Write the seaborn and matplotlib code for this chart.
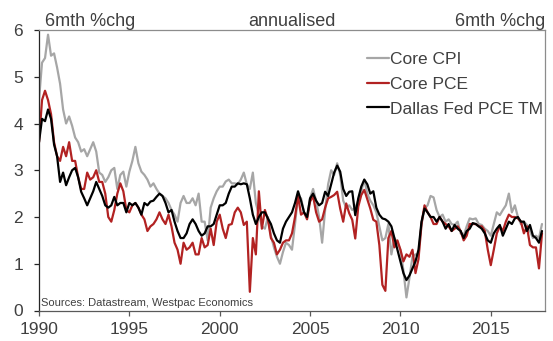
import numpy as np
import pandas as pd
import seaborn as sns
import matplotlib
matplotlib.use("Agg")
from matplotlib import pyplot as plt

# six-monthly % change, annualised; one value every 2 months (Jan, Mar, May, Jul, Sep, Nov) from Jan 1990
core_cpi = [
    4.5, 5.3, 5.4, 5.9, 5.45, 5.5,      # 1990
    5.2, 4.85, 4.3, 4.0, 4.15, 3.95,    # 1991
    3.7, 3.6, 3.4, 3.45, 3.3, 3.45,     # 1992
    3.6, 3.4, 2.95, 2.9, 2.75, 2.85,    # 1993
    3.0, 3.05, 2.6, 2.9, 2.97, 2.65,    # 1994
    2.97, 3.2, 3.5, 3.15, 2.97, 2.9,    # 1995
    2.8, 2.65, 2.72, 2.6, 2.5, 2.45,    # 1996
    2.4, 2.3, 2.15, 2.05, 1.9, 2.3,     # 1997
    2.45, 2.3, 2.3, 2.4, 2.25, 2.5,     # 1998
    1.9, 1.9, 1.5, 2.2, 2.4, 2.55,      # 1999
    2.65, 2.65, 2.76, 2.8, 2.72, 2.72,  # 2000
    2.7, 2.8, 2.95, 2.7, 2.6, 2.95,     # 2001
    2.3, 2.05, 1.8, 1.75, 2.0, 1.6,     # 2002
    1.35, 1.15, 1.0, 1.25, 1.45, 1.4,   # 2003
    1.3, 1.85, 2.45, 2.4, 2.1, 2.0,     # 2004
    2.4, 2.6, 2.35, 2.0, 1.45, 2.15,    # 2005
    2.7, 3.0, 2.9, 3.15, 2.9, 2.35,     # 2006
    2.2, 2.25, 2.15, 2.2, 2.35, 2.55,   # 2007
    2.8, 2.5, 2.35, 2.25, 2.1, 1.8,     # 2008
    1.5, 1.55, 1.85, 1.2, 1.55, 1.45,   # 2009
    1.3, 0.85, 0.28, 0.7, 1.15, 1.2,    # 2010
    1.2, 1.85, 2.18, 2.25, 2.45, 2.42,  # 2011
    2.15, 2.0, 2.05, 1.9, 1.95, 1.85,   # 2012
    1.83, 1.9, 1.65, 1.6, 1.8, 1.97,    # 2013
    1.95, 1.97, 1.85, 1.83, 1.75, 1.7,  # 2014
    1.6, 1.85, 2.1, 2.04, 2.15, 2.25,   # 2015
    2.5, 2.1, 2.25, 2.0, 1.85, 1.9,     # 2016
    1.83, 1.7, 1.55, 1.6, 1.55, 1.85,   # 2017
]

core_pce = [
    3.6, 4.5, 4.7, 4.5, 4.2, 3.6,
    3.3, 3.2, 3.5, 3.3, 3.6, 3.2,
    3.2, 2.85, 2.6, 2.6, 2.95, 2.8,
    2.85, 3.0, 2.75, 2.75, 2.5, 2.0,
    1.9, 2.15, 2.5, 2.72, 2.55, 2.15,
    2.1, 2.25, 2.3, 2.2, 2.05, 1.95,
    1.7, 1.8, 1.85, 1.95, 2.1, 1.95,
    1.85, 2.05, 1.8, 1.45, 1.3, 1.0,
    1.45, 1.3, 1.35, 1.45, 1.2, 1.2,
    1.55, 1.35, 1.4, 1.75, 1.4, 1.9,
    2.05, 1.75, 1.55, 1.83, 1.85, 2.1,
    2.2, 2.1, 1.83, 1.9, 0.4, 1.55,
    1.2, 2.55, 1.75, 2.15, 1.95, 1.55,
    1.45, 1.2, 1.3, 1.45, 1.5, 1.5,
    1.65, 2.0, 2.45, 2.05, 2.1, 1.95,
    2.33, 2.45, 2.1, 1.9, 1.95, 2.2,
    2.4, 2.43, 2.47, 2.54, 2.18, 1.9,
    2.29, 2.08, 1.94, 1.54, 2.22, 2.47,
    2.58, 2.38, 2.18, 1.94, 1.9, 1.4,
    0.55, 0.42, 1.55, 1.7, 1.35, 1.5,
    1.3, 1.05, 1.2, 1.15, 1.3, 0.8,
    1.1, 1.85, 2.25, 2.1, 2.0, 1.85,
    1.85, 2.0, 1.9, 1.85, 1.8, 1.7,
    1.75, 1.8, 1.7, 1.5, 1.6, 1.85,
    1.85, 1.85, 1.8, 1.8, 1.7, 1.3,
    0.97, 1.3, 1.65, 1.8, 1.7, 1.9,
    2.05, 2.0, 2.0, 1.97, 1.9, 1.65,
    1.8, 1.4, 1.35, 1.35, 0.9, 1.65,
]

dallas_tm = [
    3.6, 4.1, 4.05, 4.3, 4.1, 3.55,
    3.3, 2.75, 2.95, 2.68, 2.85, 3.0,
    3.05, 2.85, 2.54, 2.4, 2.25, 2.4,
    2.55, 2.75, 2.6, 2.45, 2.25, 2.2,
    2.25, 2.43, 2.25, 2.3, 2.3, 2.1,
    2.3, 2.25, 2.3, 2.2, 2.05, 2.3,
    2.25, 2.33, 2.35, 2.43, 2.5, 2.45,
    2.3, 2.1, 2.15, 1.9, 1.7, 1.55,
    1.55, 1.65, 1.85, 1.95, 1.85, 1.7,
    1.6, 1.65, 1.8, 1.8, 1.85, 2.05,
    2.25, 2.25, 2.3, 2.5, 2.65, 2.65,
    2.72, 2.7, 2.72, 2.7, 2.4, 2.05,
    1.85, 2.0, 2.1, 2.1, 1.97, 1.85,
    1.65, 1.5, 1.45, 1.75, 1.9, 2.0,
    2.1, 2.3, 2.55, 2.35, 2.1, 2.0,
    2.4, 2.5, 2.35, 2.25, 2.3, 2.54,
    2.45, 2.7, 2.95, 3.1, 2.97, 2.6,
    2.45, 2.54, 2.55, 2.04, 2.4, 2.65,
    2.8, 2.7, 2.5, 2.55, 2.2, 2.05,
    1.97, 1.95, 1.9, 1.8, 1.55, 1.3,
    1.05, 0.8, 0.65, 0.75, 0.9, 1.05,
    1.3, 1.9, 2.18, 2.1, 2.0, 2.0,
    1.9, 2.0, 1.9, 1.75, 1.85, 1.7,
    1.83, 1.75, 1.7, 1.55, 1.7, 1.75,
    1.87, 1.85, 1.8, 1.75, 1.65, 1.5,
    1.45, 1.65, 1.75, 1.83, 1.6, 1.75,
    1.9, 1.85, 1.97, 2.0, 1.9, 1.9,
    1.7, 1.83, 1.6, 1.55, 1.45, 1.7,
]

series_names = ['Core CPI', 'Core PCE', 'Dallas Fed PCE TM']
series_colors = ['#a6a6a6', '#b22222', '#000000']
x_ticks = [1990, 1995, 2000, 2005, 2010, 2015]
y_ticks = [0, 1, 2, 3, 4, 5, 6]

dates = pd.date_range('1990-01-01', periods=len(core_cpi), freq='2MS')
dec_year = dates.year + (dates.month - 1) / 12

df = pd.concat([
    pd.DataFrame({'year': dec_year, 'value': vals, 'series': name})
    for name, vals in zip(series_names, [core_cpi, core_pce, dallas_tm])
])

sns.set_style('ticks')
plt.rcParams['font.family'] = ['Liberation Sans', 'DejaVu Sans']
text_col = '#404040'

fig = plt.figure(figsize=(5.53, 3.41), dpi=100)
ax = fig.add_axes([39 / 553, 1 - 310.5 / 341, (545 - 39) / 553, (310.5 - 30) / 341])

sns.lineplot(data=df, x='year', y='value', hue='series', hue_order=series_names,
             palette=dict(zip(series_names, series_colors)), linewidth=1.6,
             estimator=None, sort=False, ax=ax)

ax.set_xlim(1990, 2018)
ax.set_ylim(0, 6)
ax.set_xticks(x_ticks)
ax.set_yticks(y_ticks)
ax.set_xlabel('')
ax.set_ylabel('')

for side in ['top', 'right']:
    ax.spines[side].set_visible(True)
    ax.spines[side].set_color('#8c8c8c')
ax.spines['left'].set_color('#262626')
ax.spines['bottom'].set_color('#595959')
for s in ax.spines.values():
    s.set_linewidth(0.9)

ax.tick_params(axis='x', length=3.6, width=0.9, color='#595959', pad=4.5,
               labelsize=12.5, labelcolor=text_col)
ax.tick_params(axis='y', length=3.6, width=0.9, color='#262626', pad=8,
               labelsize=12.5, labelcolor=text_col)

leg = ax.legend(loc='upper left', bbox_to_anchor=(367 / 553, 1 - 52 / 341),
                bbox_transform=fig.transFigure, frameon=False, fontsize=12.5,
                handlelength=1.25, handletextpad=0.1, labelspacing=0.55,
                borderpad=0, borderaxespad=0)
for t in leg.get_texts():
    t.set_color(text_col)

fig.text(45 / 553, 1 - 25.5 / 341, '6mth %chg', ha='left', va='baseline',
         fontsize=13, color=text_col)
fig.text(292 / 553, 1 - 25.5 / 341, 'annualised', ha='center', va='baseline',
         fontsize=13, color=text_col)
fig.text(545 / 553, 1 - 25.5 / 341, '6mth %chg', ha='right', va='baseline',
         fontsize=13, color=text_col)
fig.text(41 / 553, 1 - 305.5 / 341, 'Sources: Datastream, Westpac Economics',
         ha='left', va='baseline', fontsize=8, color=text_col)

fig.savefig('out.png', dpi=100)
